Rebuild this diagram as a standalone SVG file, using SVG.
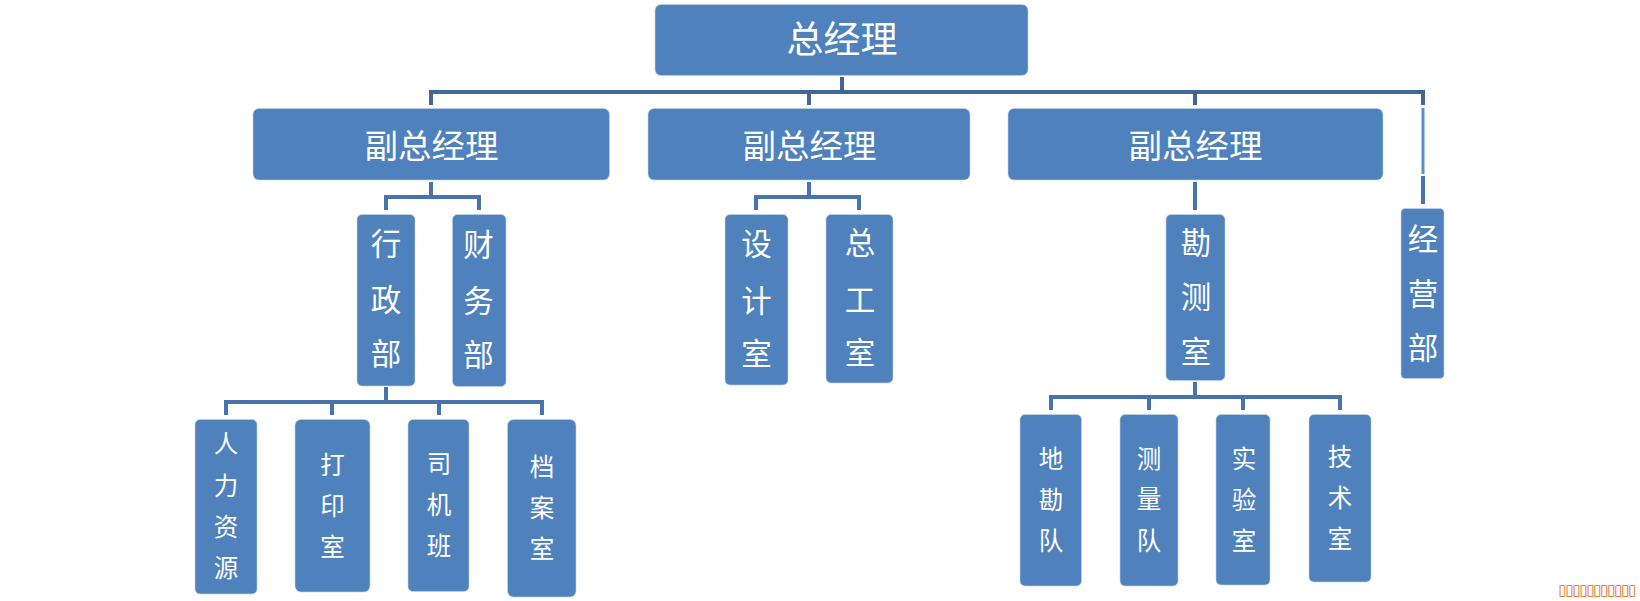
<svg xmlns="http://www.w3.org/2000/svg" width="1640" height="601" viewBox="0 0 1640 601">
<style>
.n{fill:#4f81bd;stroke:#c3d4e9;stroke-width:.6}
text{font-family:"Noto Sans CJK SC","Noto Sans",sans-serif;fill:#fff;text-anchor:middle;dominant-baseline:central}
.t{font-size:37px}.v{font-size:33.500px}.d{font-size:30.500px}.c{font-size:24.500px}
.k1{stroke:#3f6797;stroke-width:4;fill:none}
.k2{stroke:#4674ad;stroke-width:4;fill:none}
</style>
<rect width="1640" height="601" fill="#fff"/>
<g id="connectors">
<path class="k1" d="M842 77V92M431 105V92H1423V105M809 92V105M1195 92V105"/>
<path class="k2" d="M431 182V197M386 210V197H479V210M809 182V197M756 210V197H859V210M1195 182V210M1423 176V204M386 387V402M226 415V402H542V415M332 402V415M439 402V415M1195 382V397M1051 410V397H1340V410M1149 397V410M1243 397V410"/>
<path d="M1423 108V174" stroke="#5f8dc6" stroke-width="3" fill="none"/>
</g>
<g id="ceo"><rect class="n" x="655" y="4.500" width="373" height="71" rx="6"/><text class="t" x="842" y="36.500">总经理</text></g>
<g id="vp1"><rect class="n" x="253" y="108.500" width="356.500" height="71.500" rx="6"/><text class="v" x="431.500" y="143">副总经理</text></g>
<g id="vp2"><rect class="n" x="648" y="108.500" width="322" height="71.500" rx="6"/><text class="v" x="809.500" y="143">副总经理</text></g>
<g id="vp3"><rect class="n" x="1008" y="108.500" width="375" height="71.500" rx="6"/><text class="v" x="1195.500" y="143">副总经理</text></g>
<g id="xingzheng"><rect class="n" x="357" y="214.500" width="58" height="171.500" rx="5"/><g class="d"><text x="386" y="242">行</text><text x="386" y="297.500">政</text><text x="386" y="352">部</text></g></g>
<g id="caiwu"><rect class="n" x="452.500" y="214.500" width="53.500" height="172" rx="5"/><g class="d"><text x="478.500" y="243">财</text><text x="478.500" y="298.500">务</text><text x="478.500" y="353">部</text></g></g>
<g id="sheji"><rect class="n" x="725" y="214.500" width="63" height="170.500" rx="5"/><g class="d"><text x="756.500" y="242">设</text><text x="756.500" y="298.500">计</text><text x="756.500" y="352">室</text></g></g>
<g id="zonggong"><rect class="n" x="826" y="214.500" width="67" height="168.500" rx="5"/><g class="d"><text x="860" y="241">总</text><text x="860" y="297.500">工</text><text x="860" y="351">室</text></g></g>
<g id="kance"><rect class="n" x="1166" y="214.500" width="59" height="166" rx="5"/><g class="d"><text x="1196" y="240.500">勘</text><text x="1196" y="295">测</text><text x="1196" y="350">室</text></g></g>
<g id="jingying"><rect class="n" x="1401" y="208.500" width="43" height="170" rx="4"/><g class="d"><text x="1423" y="237">经</text><text x="1423" y="292">营</text><text x="1423" y="346">部</text></g></g>
<g id="renli"><rect class="n" x="195" y="419.500" width="62" height="174.500" rx="5"/><g class="c"><text x="226" y="442.500">人</text><text x="226" y="484.500">力</text><text x="226" y="525.500">资</text><text x="226" y="566.500">源</text></g></g>
<g id="dayin"><rect class="n" x="295" y="419.500" width="75" height="172.500" rx="6"/><g class="c"><text x="332.500" y="463.500">打</text><text x="332.500" y="504.500">印</text><text x="332.500" y="545.500">室</text></g></g>
<g id="siji"><rect class="n" x="408" y="419.500" width="61" height="172" rx="5"/><g class="c"><text x="439" y="462.500">司</text><text x="439" y="503.500">机</text><text x="439" y="544.500">班</text></g></g>
<g id="dangan"><rect class="n" x="507.500" y="419.500" width="68.500" height="177.500" rx="6"/><g class="c"><text x="542" y="465.500">档</text><text x="542" y="506.500">案</text><text x="542" y="547.500">室</text></g></g>
<g id="dikan"><rect class="n" x="1020" y="414.500" width="61.500" height="171.500" rx="5"/><g class="c"><text x="1051" y="457.500">地</text><text x="1051" y="498.500">勘</text><text x="1051" y="539.500">队</text></g></g>
<g id="celiang"><rect class="n" x="1120" y="414.500" width="58" height="171.500" rx="5"/><g class="c"><text x="1149" y="457.500">测</text><text x="1149" y="497.500">量</text><text x="1149" y="539.500">队</text></g></g>
<g id="shiyan"><rect class="n" x="1216" y="414.500" width="54" height="170.500" rx="5"/><g class="c"><text x="1244" y="457.500">实</text><text x="1244" y="498.500">验</text><text x="1244" y="539.500">室</text></g></g>
<g id="jishu"><rect class="n" x="1309" y="414.500" width="62" height="167.500" rx="5"/><g class="c"><text x="1340" y="455.500">技</text><text x="1340" y="496.500">术</text><text x="1340" y="537.500">室</text></g></g>
<text x="1597.500" y="590" style="font-family:'DejaVu Sans',sans-serif;font-size:15px;fill:#d9691e" textLength="78" lengthAdjust="spacing">▯▯▯▯▯▯▯▯▯▯▯</text>
</svg>
